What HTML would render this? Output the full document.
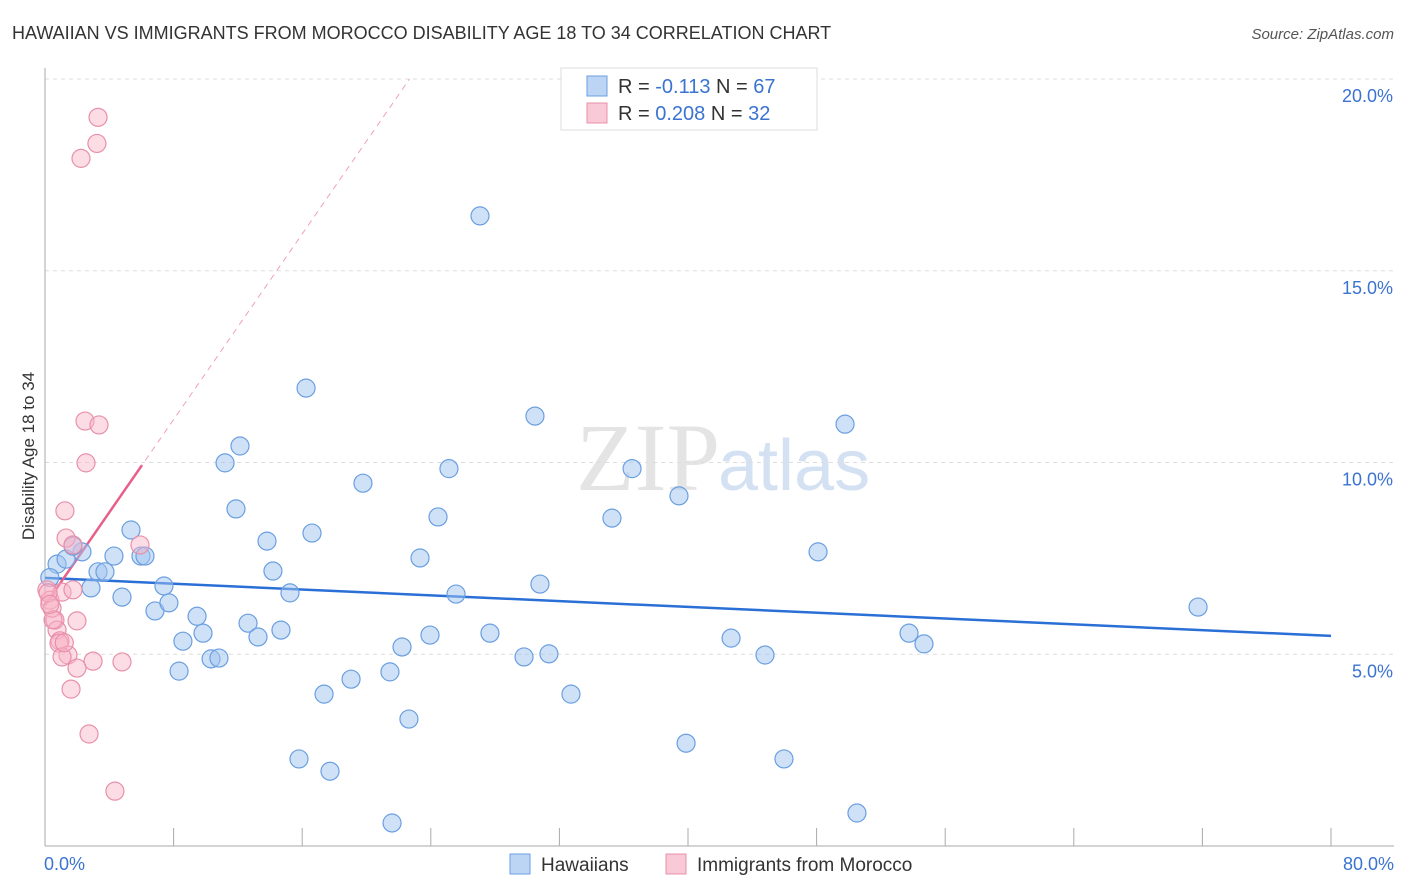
<!DOCTYPE html>
<html><head><meta charset="utf-8"><style>
body{margin:0;background:#fff;font-family:"Liberation Sans",sans-serif}
svg{display:block}
</style></head><body>
<svg id="chart" width="1406" height="892">
<text x="12" y="39" font-size="18" fill="#333">HAWAIIAN VS IMMIGRANTS FROM MOROCCO DISABILITY AGE 18 TO 34 CORRELATION CHART</text>
<text x="1394" y="39" font-size="15" font-style="italic" fill="#555" text-anchor="end">Source: ZipAtlas.com</text>
<text x="34" y="456" font-size="17" fill="#333" text-anchor="middle" transform="rotate(-90 34 456)">Disability Age 18 to 34</text>
<text x="720" y="490" font-size="96" font-family="Liberation Serif,serif" fill="#e4e4e4" text-anchor="end">ZIP</text>
<text x="718" y="490" font-size="72" fill="#d3e1f3">atlas</text>
<g id="grid"></g><g id="axes"></g><g id="trend"></g><g id="dots"></g>
<g>
<rect x="561" y="68" width="256" height="62" fill="#fff" stroke="#ddd"/>
<rect x="587" y="76" width="20" height="20" fill="#bcd5f5" stroke="#6a9fe0"/>
<text x="618" y="93" font-size="20" fill="#333">R = <tspan fill="#3a73d0">-0.113</tspan>   N = <tspan fill="#3a73d0">67</tspan></text>
<rect x="587" y="103" width="20" height="20" fill="#f9c9d7" stroke="#e890aa"/>
<text x="618" y="120" font-size="20" fill="#333">R = <tspan fill="#3a73d0">0.208</tspan>   N = <tspan fill="#3a73d0">32</tspan></text>
</g>
<g>
<rect x="510" y="854" width="20" height="20" fill="#bcd5f5" stroke="#6a9fe0"/>
<text x="541" y="871" font-size="19" fill="#333">Hawaiians</text>
<rect x="666" y="854" width="20" height="20" fill="#f9c9d7" stroke="#e890aa"/>
<text x="697" y="871" font-size="19" fill="#333">Immigrants from Morocco</text>
</g>
</svg>
<script>
const xTicks=[0,8,16,24,32,40,48,56,64,72,80];
const yTicks=[5,10,15,20];
const yTickLabels=["5.0%","10.0%","15.0%","20.0%"];
const hawX=[0.75,1.31,2.30,1.74,2.86,3.30,3.73,4.29,4.79,5.35,5.97,6.22,6.84,7.40,7.71,8.34,8.58,9.46,9.83,10.33,10.82,11.20,11.88,12.13,12.63,13.25,13.81,14.18,14.68,15.24,15.80,16.24,16.61,17.36,17.73,19.04,19.78,21.46,21.59,22.21,22.64,23.33,23.95,24.45,25.13,25.57,27.06,27.68,29.80,30.48,30.79,31.35,32.72,35.27,36.52,39.44,39.88,42.68,44.79,45.97,48.09,49.77,50.51,53.75,54.68,71.73,0.3];
const hawY=[7.35,7.48,7.67,7.82,6.73,7.15,7.15,7.56,6.49,8.24,7.56,7.56,6.13,6.78,6.34,4.56,5.34,5.99,5.55,4.88,4.90,9.99,8.79,10.43,5.81,5.45,7.95,7.17,5.63,6.60,2.27,11.94,8.16,3.96,1.95,4.35,9.46,4.54,0.60,5.19,3.31,7.51,5.50,8.58,9.84,6.57,16.43,5.55,4.93,11.21,6.83,5.01,3.96,8.55,9.84,9.13,2.68,5.42,4.98,2.27,7.67,11.00,0.86,5.55,5.27,6.23,7.0];
const morX=[3.30,3.23,2.24,2.49,3.36,2.55,1.24,1.31,1.74,5.91,0.12,0.31,1.06,1.74,0.62,1.99,0.75,0.93,0.87,1.43,1.06,2.99,4.79,1.99,1.62,2.74,4.35,0.44,0.19,0.5,0.3,1.2];
const morY=[19.00,18.32,17.93,11.08,10.98,9.99,8.74,8.03,7.85,7.85,6.68,6.41,6.62,6.68,5.89,5.87,5.63,5.35,5.29,4.98,4.93,4.82,4.80,4.64,4.09,2.92,1.43,6.20,6.60,5.9,6.3,5.3];
const trendIntercept=[6.99,6.28];
const trendSlope=[-0.0189,0.605];
const NS="http://www.w3.org/2000/svg";
const X0=45,X1=1331,Y0=846,YPER=38.35;
const sx=v=>X0+(v/80)*(X1-X0);
const sy=v=>Y0-v*YPER;
function mk(tag,attrs,parent){const e=document.createElementNS(NS,tag);for(const k in attrs)e.setAttribute(k,attrs[k]);parent.appendChild(e);return e;}
const grid=document.getElementById('grid'),axes=document.getElementById('axes'),trend=document.getElementById('trend'),dots=document.getElementById('dots');
yTicks.forEach((t,i)=>{
 const l=mk('line',{x1:X0,x2:1394,y1:sy(t),y2:sy(t),stroke:'#ddd','stroke-dasharray':'4,4'},grid);
 
 
 const tx=mk('text',{x:1393,y:sy(t)+23,'font-size':18,fill:'#3a73d0','text-anchor':'end'},axes);
 tx.textContent=yTickLabels[i];
 
 
});
const al=mk('line',{x1:X0,x2:X0,y1:68,y2:Y0,stroke:'#aaa'},axes);


const bl=mk('line',{x1:X0,x2:1394,y1:Y0,y2:Y0,stroke:'#aaa'},axes);


xTicks.forEach(t=>{
 const l=mk('line',{x1:sx(t),x2:sx(t),y1:828,y2:Y0,stroke:'#aaa'},axes);
 
 
});
const xl0=mk('text',{x:44,y:870,'font-size':18,fill:'#3a73d0'},axes);xl0.textContent='0.0%';


const xl1=mk('text',{x:1394,y:870,'font-size':18,fill:'#3a73d0','text-anchor':'end'},axes);xl1.textContent='80.0%';


// trends
const bt=mk('line',{x1:sx(0),y1:sy(trendIntercept[0]),x2:sx(80),y2:sy(trendIntercept[0]+trendSlope[0]*80),stroke:'#2a6fd6','stroke-width':2.5},trend);


const xe=(20-trendIntercept[1])/trendSlope[1];
const pd=mk('line',{x1:sx(0),y1:sy(trendIntercept[1]),x2:sx(xe),y2:sy(20),stroke:'#f0a0b8','stroke-width':1,'stroke-dasharray':'6,5'},trend);


const pt=mk('line',{x1:sx(0),y1:sy(trendIntercept[1]),x2:sx(6.03),y2:sy(trendIntercept[1]+trendSlope[1]*6.03),stroke:'#e8608a','stroke-width':2.5},trend);


hawX.forEach((v,i)=>{
 const c=mk('circle',{cx:sx(v),cy:sy(hawY[i]),r:9,fill:'rgba(160,196,240,0.5)',stroke:'#6a9fe0','stroke-width':1.2},dots);
 
 
});
morX.forEach((v,i)=>{
 const c=mk('circle',{cx:sx(v),cy:sy(morY[i]),r:9,fill:'rgba(248,180,200,0.45)',stroke:'#e890aa','stroke-width':1.2},dots);
 
 
});
</script>
</body></html>
